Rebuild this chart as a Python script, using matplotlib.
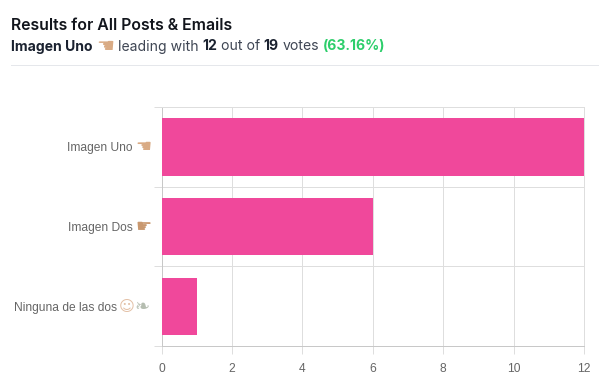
import matplotlib
matplotlib.use("Agg")
import matplotlib.pyplot as plt
from matplotlib import font_manager as fm
from matplotlib.ft2font import FT2Font

categories = ["Imagen Uno", "Imagen Dos", "Ninguna de las dos"]
votes = [12, 6, 1]
total_votes = 19
xticks = [0, 2, 4, 6, 8, 10, 12]
title = "Results for All Posts & Emails"

PINK = "#f0489b"
GRID = "#dedede"
AXIS = "#c8c8c8"
LABEL = "#666666"
DARK = "#12151c"
SUB = "#3f4654"
GREEN = "#2dce6b"
SKIN = "#d9ab85"
W, H = 610, 390
PX = 0.72


def has_glyph(ch, family="DejaVu Sans"):
    path = fm.findfont(family)
    return FT2Font(path).get_char_index(ord(ch)) != 0


def pick(cands, family="DejaVu Sans"):
    for c in cands:
        if has_glyph(c, family):
            return c
    return ""


LEFT = pick(["\U0001F448", "\u261A"])
RIGHT = pick(["\U0001F449", "\u261B"])
MAN = pick(["\U0001F474", "\u263A"])
DOVE = pick(["\U0001F54A", "\U0001F426", "\u2767"])

fig = plt.figure(figsize=(W / 100, H / 100), dpi=100)
ax = fig.add_axes([161.5 / W, 1 - 346 / H, (584 - 161.5) / W, (346 - 107.2) / H])
ypos = range(len(categories))
ax.barh(list(ypos), votes, height=0.72, color=PINK, zorder=3)
ax.set_xlim(0, 12)
ax.set_ylim(len(categories) - 0.5, -0.5)
ax.set_xticks(xticks)
ax.set_yticks([-0.5, 0.5, 1.5, 2.5])
ax.set_yticklabels([])
ax.grid(True, color=GRID, lw=PX, zorder=0)
ax.set_axisbelow(True)
ax.tick_params(axis="x", length=6, width=PX, color=GRID, labelsize=8.64,
               labelcolor=LABEL, pad=6)
ax.tick_params(axis="y", length=5.5, width=PX, color=GRID)
for lab in ax.get_xticklabels():
    lab.set_fontfamily("Liberation Sans")
for s in ("top", "right"):
    ax.spines[s].set_color(GRID)
    ax.spines[s].set_linewidth(PX)
ax.spines["left"].set_color(AXIS)
ax.spines["bottom"].set_color(AXIS)
ax.spines["left"].set_linewidth(PX)
ax.spines["bottom"].set_linewidth(PX)

fig.canvas.draw()
rend = fig.canvas.get_renderer()


def put(x, y, txt, **kw):
    t = fig.text(x / W, 1 - y / H, txt, va="baseline", ha="left", **kw)
    return t.get_window_extent(rend).x1


def rrow(xright, y, parts):
    x = xright
    for txt, kw, dy, gap in reversed(parts):
        t = fig.text(x / W, 1 - (y + dy) / H, txt, va="baseline", ha="right", **kw)
        x = t.get_window_extent(rend).x0 - gap


fig.text(11 / W, 1 - 30 / H, title, family="Inter", fontsize=11.4, fontweight="semibold", color=DARK)
bold = dict(family="Inter", fontsize=10.08, fontweight="bold", color="#1b2230")
norm = dict(family="Inter", fontsize=10.08, color=SUB)
BASE = 50.5
x = put(11, BASE, categories[0], **bold)
x = put(x + 3.5, BASE + 2, LEFT, family="DejaVu Sans", fontsize=14.5, color=SKIN)
x = put(x + 3.5, BASE, "leading with", **norm)
x = put(x + 3.8, BASE, str(votes[0]), **bold)
x = put(x + 3.8, BASE, "out of", **norm)
x = put(x + 3.8, BASE, str(total_votes), **bold)
x = put(x + 3.8, BASE, "votes", **norm)
pct = f"({votes[0] / total_votes * 100:.2f}%)"
put(x + 4, BASE, pct, family="Inter", fontsize=10.08, fontweight="bold", color=GREEN)
fig.add_artist(plt.Line2D([11 / W, 598 / W], [1 - 64.5 / H] * 2, color="#e5e7eb", lw=PX))

lab = dict(family="Liberation Sans", fontsize=8.64, color=LABEL)
em = dict(family="DejaVu Sans", fontsize=13, color=SKIN)
rrow(151.5, 151, [(categories[0], lab, 0, 2.5), (LEFT, em, 1, 3)])
rrow(151.5, 231, [(categories[1], lab, 0, 2.5), (RIGHT, dict(em, color="#c9986f"), 1, 3)])
rrow(150, 311, [(categories[2], lab, 0, 3), (MAN, dict(em, fontsize=11, color="#e3c0a6"), 0.5, 2),
                (DOVE, dict(em, color="#b5bdb0"), 1, 0)])

fig.savefig("out.png", dpi=100)
